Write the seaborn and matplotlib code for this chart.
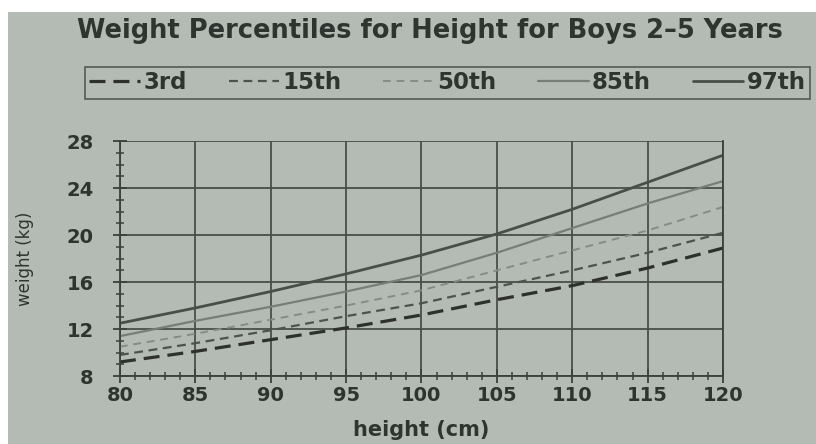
import matplotlib
matplotlib.use("Agg")
import matplotlib.pyplot as plt
import matplotlib.patches as mpatches
from matplotlib.ticker import MultipleLocator
import pandas as pd
import seaborn as sns

# values
height = [80, 85, 90, 95, 100, 105, 110, 115, 120]
p3 = [9.2, 10.1, 11.1, 12.1, 13.2, 14.5, 15.7, 17.2, 18.9]
p15 = [9.8, 10.8, 11.9, 13.1, 14.2, 15.6, 17.0, 18.5, 20.2]
p50 = [10.5, 11.6, 12.8, 14.0, 15.3, 17.0, 18.7, 20.4, 22.4]
p85 = [11.4, 12.7, 13.9, 15.2, 16.6, 18.5, 20.6, 22.7, 24.6]
p97 = [12.5, 13.8, 15.2, 16.7, 18.3, 20.1, 22.2, 24.5, 26.8]
labels = ['3rd', '15th', '50th', '85th', '97th']

bg = '#b4bbb4'
dark = '#3c3f3c'
txt = '#303430'

sns.set_style("ticks")
plt.rcParams['font.family'] = ['DejaVu Sans']

df = pd.DataFrame({'height': height, '3rd': p3, '15th': p15, '50th': p50,
                   '85th': p85, '97th': p97})

styles = {
    '3rd': dict(color='#2e302e', linestyle=(0, (5, 2.5)), linewidth=2.3),
    '15th': dict(color='#4e524e', linestyle=(0, (4, 2.5)), linewidth=1.6),
    '50th': dict(color='#868b86', linestyle=(0, (4, 3)), linewidth=1.4),
    '85th': dict(color='#787d78', linestyle='-', linewidth=1.6),
    '97th': dict(color='#4a4e4a', linestyle='-', linewidth=2.0),
}

fig = plt.figure(figsize=(8.16, 4.44), dpi=100, facecolor='white')
fig.patches.append(mpatches.Rectangle((0.0098, 0), 0.99, 0.973, transform=fig.transFigure,
                                      facecolor=bg, edgecolor='none', zorder=-10))
ax = fig.add_axes([0.147, 0.153, 0.739, 0.529])
ax.set_facecolor(bg)

for lab in labels:
    sns.lineplot(data=df, x='height', y=lab, ax=ax, label=lab, legend=False, **styles[lab])

ax.set_xlim(80, 120)
ax.set_ylim(8, 28)
ax.xaxis.set_major_locator(MultipleLocator(5))
ax.xaxis.set_minor_locator(MultipleLocator(1))
ax.yaxis.set_major_locator(MultipleLocator(4))
ax.yaxis.set_minor_locator(MultipleLocator(1))
ax.grid(True, which='major', color='#4a4e4a', linewidth=1.3)
ax.tick_params(which='major', direction='inout', length=10, width=1.3, color=dark,
               labelsize=14, labelcolor=txt)
ax.tick_params(axis='x', which='major', pad=2)
ax.tick_params(axis='y', which='major', pad=14)
ax.tick_params(which='minor', direction='inout', length=6, width=1.1, color=dark)
for t in ax.get_xticklabels() + ax.get_yticklabels():
    t.set_fontweight('bold')
for s in ax.spines.values():
    s.set_color(dark)
    s.set_linewidth(1.3)
ax.spines['top'].set_visible(False)
ax.set_xlabel('height (cm)', fontsize=15, color=txt, fontweight='bold')
ax.set_ylabel('weight (kg)', fontsize=12, color=txt)
ax.xaxis.set_label_coords(0.5, -0.185)
ax.yaxis.set_label_coords(-0.143, 0.5)

fig.text(0.527, 0.93, 'Weight Percentiles for Height for Boys 2\u20135 Years',
         ha='center', va='center', fontsize=18.5, color=txt, fontweight='bold')

handles, lbls = ax.get_legend_handles_labels()
leg = fig.legend(handles, lbls, ncol=5, loc='lower left', mode='expand',
                 bbox_to_anchor=(0.104, 0.777, 0.889, 0.074), frameon=True,
                 fancybox=False, edgecolor='#555955', facecolor=bg, framealpha=1,
                 prop={'size': 16.5, 'weight': 'bold'}, handlelength=2.2,
                 handletextpad=0.15, borderpad=0.2, borderaxespad=0, labelcolor=txt)
leg.get_frame().set_linewidth(1.2)

fig.savefig('out.png', dpi=100, facecolor='white')
